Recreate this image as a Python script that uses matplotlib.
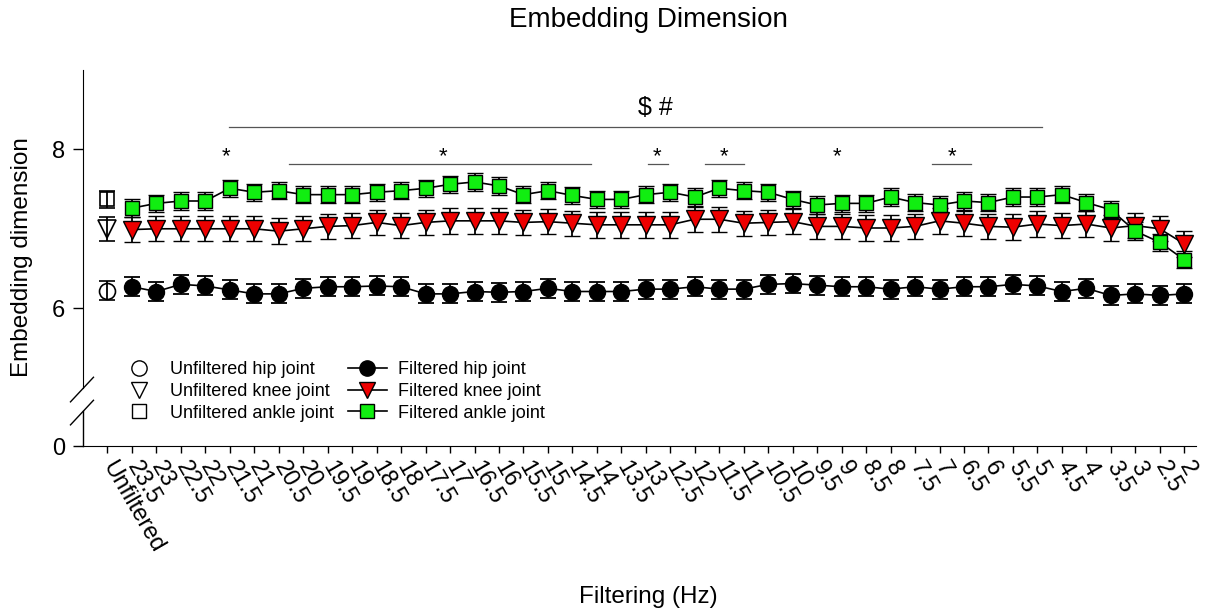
import matplotlib.pyplot as plt
from matplotlib.lines import Line2D
import numpy as np

plt.rcParams['font.family'] = ['Liberation Sans', 'DejaVu Sans']

freq_labels = ['Unfiltered', '23.5', '23', '22.5', '22', '21.5', '21', '20.5', '20',
               '19.5', '19', '18.5', '18', '17.5', '17', '16.5', '16', '15.5', '15',
               '14.5', '14', '13.5', '13', '12.5', '12', '11.5', '11', '10.5', '10',
               '9.5', '9', '8.5', '8', '7.5', '7', '6.5', '6', '5.5', '5', '4.5', '4',
               '3.5', '3', '2.5', '2']

# unfiltered means / SEM
unf_hip, unf_hip_err = 6.22, 0.12
unf_knee, unf_knee_err = 7.00, 0.15
unf_ankle, unf_ankle_err = 7.37, 0.11

# filtered, 23.5 Hz -> 2 Hz
hip = [6.27, 6.21, 6.30, 6.28, 6.23, 6.18, 6.18, 6.25, 6.27, 6.27, 6.28, 6.27,
       6.18, 6.18, 6.21, 6.20, 6.21, 6.25, 6.21, 6.21, 6.21, 6.24, 6.24, 6.27,
       6.24, 6.24, 6.30, 6.31, 6.29, 6.27, 6.27, 6.24, 6.27, 6.24, 6.27, 6.27,
       6.30, 6.28, 6.21, 6.25, 6.16, 6.18, 6.16, 6.18]
knee = [6.99, 7.00, 7.00, 7.00, 7.00, 7.00, 6.97, 7.00, 7.03, 7.04, 7.08, 7.04,
        7.08, 7.10, 7.10, 7.10, 7.08, 7.09, 7.07, 7.05, 7.05, 7.05, 7.05, 7.12,
        7.12, 7.07, 7.08, 7.09, 7.03, 7.03, 7.01, 7.01, 7.03, 7.10, 7.07, 7.03,
        7.02, 7.06, 7.04, 7.06, 7.01, 7.04, 7.00, 6.81]
ankle = [7.26, 7.32, 7.35, 7.35, 7.51, 7.46, 7.48, 7.43, 7.43, 7.43, 7.46, 7.48,
         7.51, 7.56, 7.59, 7.54, 7.43, 7.48, 7.42, 7.37, 7.37, 7.43, 7.46, 7.40,
         7.51, 7.48, 7.46, 7.37, 7.30, 7.32, 7.32, 7.40, 7.33, 7.30, 7.35, 7.33,
         7.40, 7.40, 7.43, 7.33, 7.24, 6.97, 6.83, 6.61]
hip_err = [0.12] * 44
knee_err = [0.16] * 44
ankle_err = [0.11] * 44

fig = plt.figure(figsize=(12.11, 6.14), dpi=100)
ax = fig.add_axes([0.0685, 0.2736, 0.9195, 0.6124])

x = np.arange(1, 45)
ebkw = dict(ecolor='black', elinewidth=1.3, capsize=6, capthick=1.3)

# unfiltered (open symbols)
ax.errorbar(0, unf_hip, yerr=unf_hip_err, fmt='o', ms=11.5, mfc='none', mec='black', mew=1.2, **ebkw)
ax.errorbar(0, unf_knee, yerr=unf_knee_err, fmt='v', ms=12.5, mfc='none', mec='black', mew=1.2, **ebkw)
ax.errorbar(0, unf_ankle, yerr=unf_ankle_err, fmt='s', ms=10, mfc='none', mec='black', mew=1.2, **ebkw)

# filtered
ax.errorbar(x, hip, yerr=hip_err, fmt='-o', color='black', lw=1.2, ms=11.5, mfc='black', mec='black', **ebkw)
ax.errorbar(x, knee, yerr=knee_err, fmt='-v', color='black', lw=1.2, ms=12.5, mfc='#ee0000', mec='black', mew=1.0, **ebkw)
ax.errorbar(x, ankle, yerr=ankle_err, fmt='-s', color='black', lw=1.2, ms=10, mfc='#11ee11', mec='black', mew=1.0, **ebkw)

ymin = 4.264
ax.set_xlim(-1, 44.5)
ax.set_ylim(ymin, 9.0)
ax.set_yticks([ymin, 6, 8])
ax.set_yticklabels(['0', '6', '8'])
ax.set_xticks(np.arange(45))
ax.set_xticklabels(freq_labels, rotation=-60, ha='left', va='center', rotation_mode='anchor')
ax.tick_params(axis='y', labelsize=17, length=7, width=1, pad=6)
ax.tick_params(axis='x', labelsize=17, length=5, width=1, pad=7)
for s in ['top', 'right']:
    ax.spines[s].set_visible(False)

# broken y axis
ax.spines['left'].set_bounds(4.99, 9.0)
ax.plot([-1, -1], [ymin, 4.70], color='black', lw=1, clip_on=False)
ax.plot([-1.51, -0.57], [4.82, 5.13], color='black', lw=1, clip_on=False)
ax.plot([-1.51, -0.57], [4.53, 4.84], color='black', lw=1, clip_on=False)

# significance marks
ax.plot([4.98, 38.2], [8.28, 8.28], color='#555555', lw=0.9)
ax.text(22.37, 8.52, '$ #', fontsize=18, ha='center', va='center')
stars = [(4.86, None), (13.7, (7.43, 19.75)), (22.45, (22.1, 22.9)),
         (25.2, (24.4, 26.0)), (29.8, None), (34.5, (33.7, 35.3))]
for sx, seg in stars:
    ax.text(sx, 7.91, '*', fontsize=16, ha='center', va='center')
    if seg:
        ax.plot(seg, [7.81, 7.81], color='#555555', lw=0.9)

handles = [
    Line2D([], [], ls='none', marker='o', ms=11, mfc='white', mec='black'),
    Line2D([], [], ls='none', marker='v', ms=11, mfc='white', mec='black'),
    Line2D([], [], ls='none', marker='s', ms=10, mfc='white', mec='black'),
    Line2D([], [], color='black', lw=1.2, marker='o', ms=11, mfc='black', mec='black'),
    Line2D([], [], color='black', lw=1.2, marker='v', ms=11, mfc='#ee0000', mec='black'),
    Line2D([], [], color='black', lw=1.2, marker='s', ms=10, mfc='#11ee11', mec='black'),
]
labels = ['Unfiltered hip joint', 'Unfiltered knee joint', 'Unfiltered ankle joint',
          'Filtered hip joint', 'Filtered knee joint', 'Filtered ankle joint']
fig.legend(handles, labels, ncol=2, frameon=False, fontsize=13, loc='upper left',
           bbox_to_anchor=(0.099, 0.412), bbox_transform=fig.transFigure,
           borderpad=0, borderaxespad=0, handlelength=2.15, handletextpad=0.6,
           columnspacing=0.8, labelspacing=0.27)

fig.text(648 / 1211, 1 - 20 / 614, 'Embedding Dimension', fontsize=20, ha='center', va='center')
fig.text(22 / 1211, 1 - 257 / 614, 'Embedding dimension', fontsize=17.5, rotation=90, ha='center', va='center')
fig.text(648 / 1211, 1 - 597 / 614, 'Filtering (Hz)', fontsize=17.5, ha='center', va='center')

fig.savefig('out.png', dpi=100)
